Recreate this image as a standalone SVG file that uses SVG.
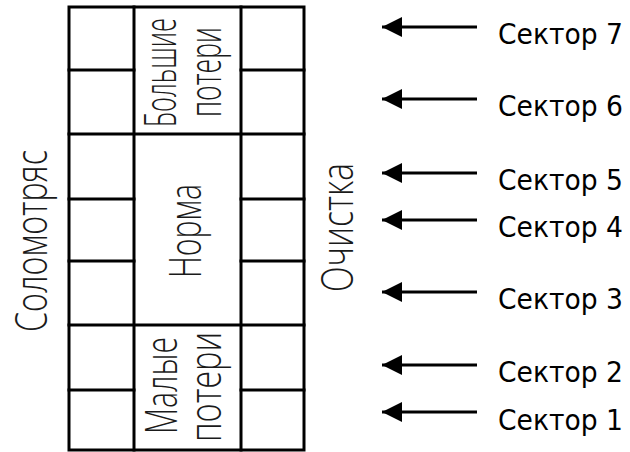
<svg xmlns="http://www.w3.org/2000/svg" width="630" height="452" viewBox="0 0 630 452">
<style>
.g{stroke:#000;stroke-width:3;fill:none;stroke-linecap:square}
.v{font-family:"Open Sans","Liberation Sans",sans-serif;font-weight:300;font-size:45px;fill:#1a1a1a;text-anchor:middle}
.s{font-family:"DejaVu Sans","Liberation Sans",sans-serif;font-size:28px;fill:#000}
.a{stroke:#000;stroke-width:3;fill:none}
</style>
<defs>
<marker id="ah" markerUnits="userSpaceOnUse" markerWidth="22" markerHeight="22" refX="20" refY="10" orient="auto" viewBox="0 0 22 20">
<path d="M0,0 L20,10 L0,20 Z" fill="#000"/>
</marker>
</defs>
<g id="grid">
<rect class="g" x="69" y="7" width="235" height="443"/>
<line class="g" x1="134" y1="7" x2="134" y2="450"/>
<line class="g" x1="241" y1="7" x2="241" y2="450"/>
<line class="g" x1="69" y1="70" x2="134" y2="70"/>
<line class="g" x1="241" y1="70" x2="304" y2="70"/>
<line class="g" x1="69" y1="134" x2="304" y2="134"/>
<line class="g" x1="69" y1="199" x2="134" y2="199"/>
<line class="g" x1="241" y1="199" x2="304" y2="199"/>
<line class="g" x1="69" y1="261" x2="134" y2="261"/>
<line class="g" x1="241" y1="261" x2="304" y2="261"/>
<line class="g" x1="69" y1="325" x2="304" y2="325"/>
<line class="g" x1="69" y1="390" x2="134" y2="390"/>
<line class="g" x1="241" y1="390" x2="304" y2="390"/>
</g>
<g id="label-solomotryas"><text class="v" transform="translate(47,241) rotate(-90)" textLength="182" lengthAdjust="spacingAndGlyphs">Соломотряс</text></g>
<g id="label-norma"><text class="v" transform="translate(201,231) rotate(-90)" textLength="94" lengthAdjust="spacingAndGlyphs">Норма</text></g>
<g id="label-bolshie"><text class="v" transform="translate(176,72.5) rotate(-90)" textLength="109" lengthAdjust="spacingAndGlyphs">Большие</text>
<text class="v" transform="translate(221,72) rotate(-90)" textLength="90" lengthAdjust="spacingAndGlyphs">потери</text></g>
<g id="label-malye"><text class="v" transform="translate(177,385.5) rotate(-90)" textLength="97" lengthAdjust="spacingAndGlyphs">Малые</text>
<text class="v" transform="translate(221,387) rotate(-90)" textLength="110" lengthAdjust="spacingAndGlyphs">потери</text></g>
<g id="label-ochistka"><text class="v" transform="translate(353,227.5) rotate(-90)" textLength="129" lengthAdjust="spacingAndGlyphs">Очистка</text></g>
<g id="connectors">
<line class="a" x1="477" y1="27" x2="382" y2="27" marker-end="url(#ah)"/>
<line class="a" x1="477" y1="99" x2="382" y2="99" marker-end="url(#ah)"/>
<line class="a" x1="477" y1="173" x2="382" y2="173" marker-end="url(#ah)"/>
<line class="a" x1="477" y1="220" x2="382" y2="220" marker-end="url(#ah)"/>
<line class="a" x1="477" y1="292" x2="382" y2="292" marker-end="url(#ah)"/>
<line class="a" x1="477" y1="365" x2="382" y2="365" marker-end="url(#ah)"/>
<line class="a" x1="477" y1="412" x2="382" y2="412" marker-end="url(#ah)"/>
</g>
<g id="sectors">
<text class="s" x="498" y="44" textLength="125" lengthAdjust="spacingAndGlyphs">Сектор 7</text>
<text class="s" x="498" y="116" textLength="125" lengthAdjust="spacingAndGlyphs">Сектор 6</text>
<text class="s" x="498" y="190" textLength="125" lengthAdjust="spacingAndGlyphs">Сектор 5</text>
<text class="s" x="498" y="237" textLength="125" lengthAdjust="spacingAndGlyphs">Сектор 4</text>
<text class="s" x="498" y="309" textLength="125" lengthAdjust="spacingAndGlyphs">Сектор 3</text>
<text class="s" x="498" y="382" textLength="125" lengthAdjust="spacingAndGlyphs">Сектор 2</text>
<text class="s" x="498" y="430" textLength="125" lengthAdjust="spacingAndGlyphs">Сектор 1</text>
</g>
</svg>
